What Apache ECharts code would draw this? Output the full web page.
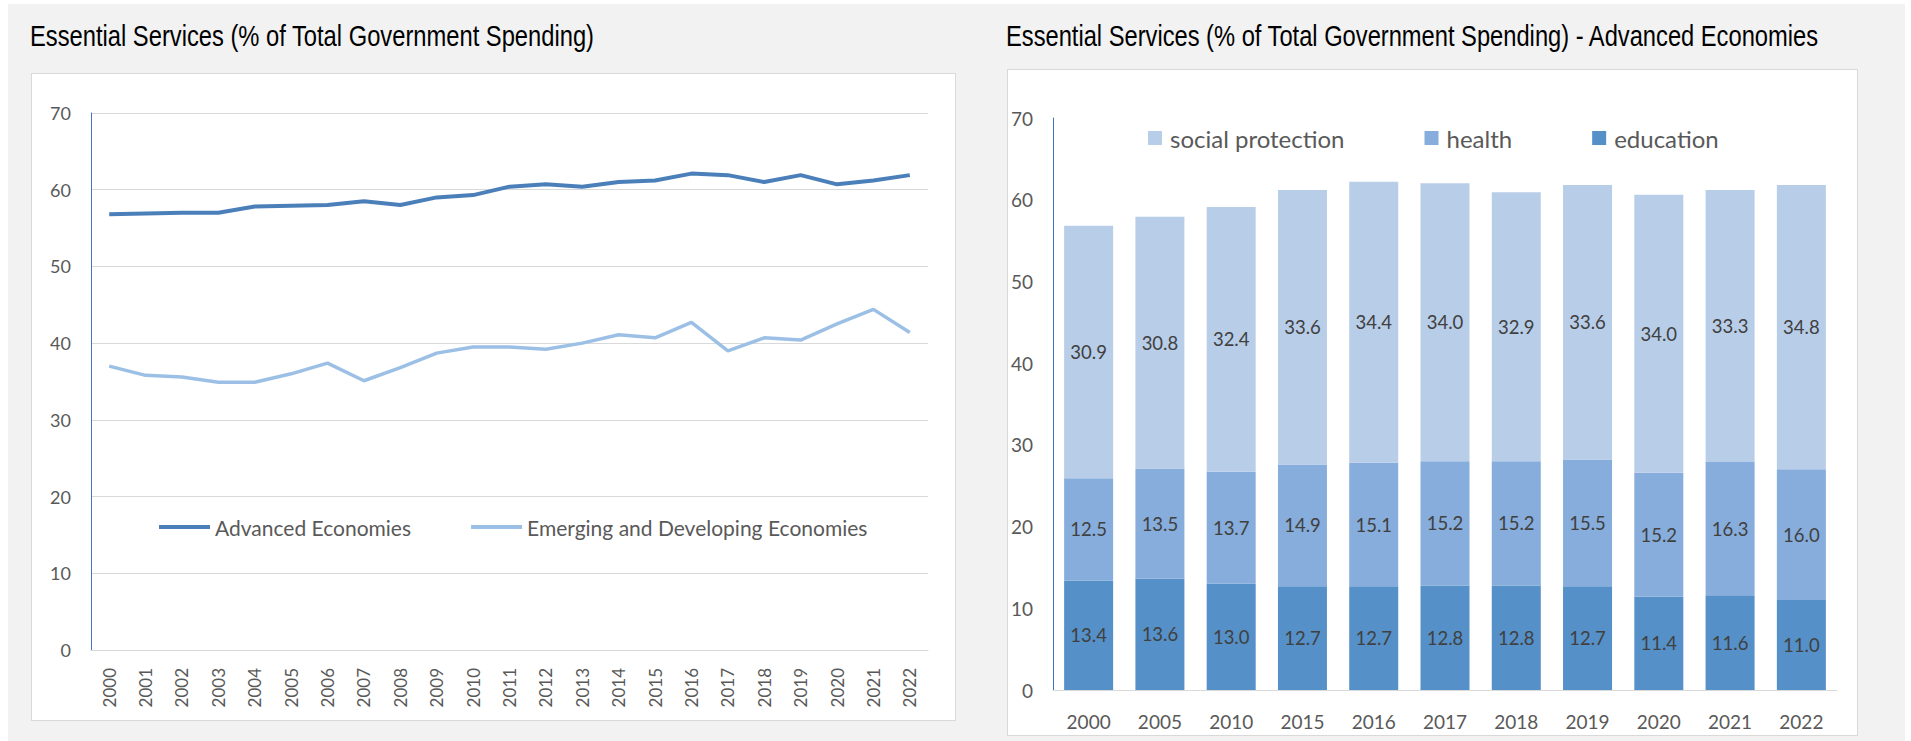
<!DOCTYPE html>
<html>
<head>
<meta charset="utf-8">
<script src="https://cdn.jsdelivr.net/npm/echarts@6/dist/echarts.min.js"></script>
<style>
  html, body { margin: 0; padding: 0; background: #ffffff; }
  #wrap { position: relative; width: 1911px; height: 741px; overflow: hidden; background: #ffffff; }
  #panel { position: absolute; left: 8px; top: 4px; width: 1897px; height: 737px; background: #f2f2f2; }
  .box { position: absolute; background: #fff; border: 1px solid #d9d9d9; box-sizing: border-box; }
  .ttl { position: absolute; white-space: nowrap; font-family: "Liberation Sans", Arial, sans-serif;
         font-size: 30px; line-height: 30px; color: #000; transform-origin: 0 0; }
  #chart { position: absolute; left: 0; top: 0; width: 1911px; height: 741px; }
</style>
</head>
<body>
<div id="wrap">
  <div id="panel"></div>
  <div class="box" style="left:31px;top:73px;width:925px;height:648px;"></div>
  <div class="box" style="left:1007px;top:69px;width:851px;height:667px;"></div>
  <div id="t1" class="ttl" style="left:30px;top:21px;"></div>
  <div id="t2" class="ttl" style="left:1006px;top:21px;"></div>
  <div id="chart"></div>
</div>
<script>
// ---- Left chart data ----
const lineYears = ['2000','2001','2002','2003','2004','2005','2006','2007','2008','2009','2010','2011','2012','2013','2014','2015','2016','2017','2018','2019','2020','2021','2022'];
const advancedEconomies = [56.8,56.9,57.0,57.0,57.8,57.9,58.0,58.5,58.0,59.0,59.3,60.4,60.7,60.4,61.0,61.2,62.1,61.9,61.0,61.9,60.7,61.2,61.9];
const emergingEconomies = [37.0,35.8,35.6,34.9,34.9,36.0,37.4,35.1,36.8,38.7,39.5,39.5,39.2,40.0,41.1,40.7,42.7,39.0,40.7,40.4,42.5,44.4,41.4];
const lineSeriesNames = ['Advanced Economies','Emerging and Developing Economies'];

// ---- Right chart data ----
const barYears = ['2000','2005','2010','2015','2016','2017','2018','2019','2020','2021','2022'];
const education = [13.4,13.6,13.0,12.7,12.7,12.8,12.8,12.7,11.4,11.6,11.0];
const health = [12.5,13.5,13.7,14.9,15.1,15.2,15.2,15.5,15.2,16.3,16.0];
const socialProtection = [30.9,30.8,32.4,33.6,34.4,34.0,32.9,33.6,34.0,33.3,34.8];
const barSeriesNames = ['social protection','health','education'];

const leftTitle = 'Essential Services (% of Total Government Spending)';
const rightTitle = 'Essential Services (% of Total Government Spending) - Advanced Economies';

// condensed look for titles: squeeze real text to the reference width
function setTitle(id, text, targetWidth) {
  const el = document.getElementById(id);
  el.textContent = text;
  const w = el.getBoundingClientRect().width;
  el.style.transform = 'scaleX(' + (targetWidth / w) + ')';
}
setTitle('t1', leftTitle, 564);
setTitle('t2', rightTitle, 812);

const FONT = 'Lato, "Open Sans", sans-serif';
const AXIS_COLOR = '#595959';

const chart = echarts.init(document.getElementById('chart'), null, { renderer: 'svg' });

const barLabel = {
  show: true,
  position: 'inside',
  color: '#404040',
  fontFamily: FONT,
  fontSize: 18.5,
  formatter: p => Number(p.value).toFixed(1)
};

chart.setOption({
  backgroundColor: 'transparent',
  animation: false,
  textStyle: { fontFamily: FONT },
  legend: [
    {
      data: lineSeriesNames,
      left: 154, top: 510,
      icon: 'rect', itemWidth: 51, itemHeight: 4, itemGap: 60,
      textStyle: { fontFamily: FONT, fontSize: 21, color: AXIS_COLOR, lineHeight: 24 }
    },
    {
      data: barSeriesNames,
      left: 1143, top: 120,
      icon: 'rect', itemWidth: 14, itemHeight: 14, itemGap: 80,
      textStyle: { fontFamily: FONT, fontSize: 24, color: AXIS_COLOR, lineHeight: 26, padding: [0,0,0,3] }
    }
  ],
  grid: [
    { left: 91, top: 113, width: 837, height: 537 },
    { left: 1053, top: 118, width: 784, height: 572 }
  ],
  xAxis: [
    {
      type: 'category', gridIndex: 0, data: lineYears,
      axisLine: { lineStyle: { color: '#d9d9d9' } },
      axisTick: { show: false },
      axisLabel: { rotate: 90, interval: 0, margin: 18, fontSize: 17, color: AXIS_COLOR }
    },
    {
      type: 'category', gridIndex: 1, data: barYears,
      axisLine: { lineStyle: { color: '#d9d9d9' } },
      axisTick: { show: false },
      axisLabel: { interval: 0, margin: 22, fontSize: 19, color: AXIS_COLOR }
    }
  ],
  yAxis: [
    {
      type: 'value', gridIndex: 0, min: 0, max: 70, interval: 10,
      axisLine: { show: true, lineStyle: { color: '#4472c4', width: 1 } },
      axisTick: { show: false },
      splitLine: { lineStyle: { color: '#d9d9d9' } },
      axisLabel: { margin: 20, fontSize: 18, color: AXIS_COLOR }
    },
    {
      type: 'value', gridIndex: 1, min: 0, max: 70, interval: 10,
      axisLine: { show: true, lineStyle: { color: '#4472c4', width: 1 } },
      axisTick: { show: false },
      splitLine: { show: false },
      axisLabel: { margin: 20, fontSize: 19, color: AXIS_COLOR }
    }
  ],
  series: [
    {
      name: lineSeriesNames[0], type: 'line', xAxisIndex: 0, yAxisIndex: 0,
      data: advancedEconomies, symbol: 'none',
      lineStyle: { width: 4, color: '#4b7fba' }, itemStyle: { color: '#4b7fba' }
    },
    {
      name: lineSeriesNames[1], type: 'line', xAxisIndex: 0, yAxisIndex: 0,
      data: emergingEconomies, symbol: 'none',
      lineStyle: { width: 3.5, color: '#9cc0e5' }, itemStyle: { color: '#9cc0e5' }
    },
    {
      name: 'education', type: 'bar', stack: 'ae', xAxisIndex: 1, yAxisIndex: 1,
      data: education, barWidth: 49,
      itemStyle: { color: '#5590c8' }, label: barLabel
    },
    {
      name: 'health', type: 'bar', stack: 'ae', xAxisIndex: 1, yAxisIndex: 1,
      data: health, barWidth: 49,
      itemStyle: { color: '#86addb' }, label: barLabel
    },
    {
      name: 'social protection', type: 'bar', stack: 'ae', xAxisIndex: 1, yAxisIndex: 1,
      data: socialProtection, barWidth: 49,
      itemStyle: { color: '#b8cde8' }, label: barLabel
    }
  ]
});
</script>
</body>
</html>
